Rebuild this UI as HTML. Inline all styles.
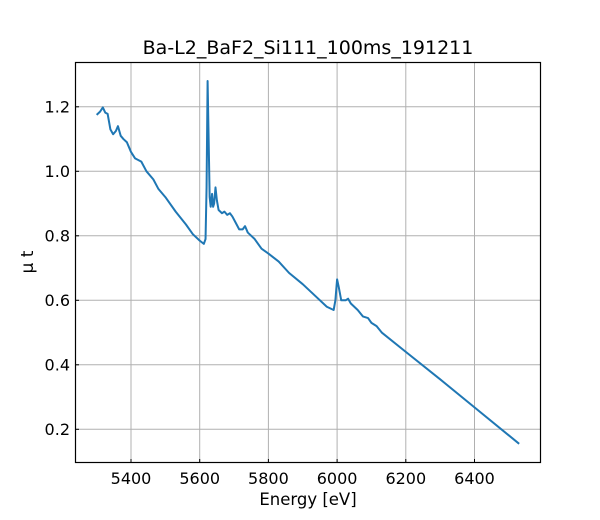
<!DOCTYPE html>
<html><head><style>
body{margin:0;background:#fff;}
svg{display:block;font-family:"DejaVu Sans","Liberation Sans",sans-serif;}
</style></head><body>
<svg width="600" height="520" viewBox="0 0 600 520" xmlns="http://www.w3.org/2000/svg">
<rect width="600" height="520" fill="#fff"/>
<g stroke="#b0b0b0" stroke-width="1">
<line x1="131" y1="62.5" x2="131" y2="462.5"/>
<line x1="199.7" y1="62.5" x2="199.7" y2="462.5"/>
<line x1="268.4" y1="62.5" x2="268.4" y2="462.5"/>
<line x1="337.1" y1="62.5" x2="337.1" y2="462.5"/>
<line x1="405.8" y1="62.5" x2="405.8" y2="462.5"/>
<line x1="474.5" y1="62.5" x2="474.5" y2="462.5"/>
<line x1="75.5" y1="429.3" x2="540.5" y2="429.3"/>
<line x1="75.5" y1="364.8" x2="540.5" y2="364.8"/>
<line x1="75.5" y1="300.3" x2="540.5" y2="300.3"/>
<line x1="75.5" y1="235.8" x2="540.5" y2="235.8"/>
<line x1="75.5" y1="171.3" x2="540.5" y2="171.3"/>
<line x1="75.5" y1="106.8" x2="540.5" y2="106.8"/>
</g>
<g transform="translate(131,429.3) scale(0.3435,-322.5) translate(-5400,-0.2)">
<polyline fill="none" stroke="#1f77b4" stroke-width="2" vector-effect="non-scaling-stroke" stroke-linejoin="round" points="
5300,1.175 5310,1.185 5318,1.198 5325,1.182 5332,1.178 5340,1.13 5348,1.115 5356,1.125 5362,1.14 5370,1.11 5378,1.10 5388,1.09 5400,1.06 5412,1.04 5430,1.03 5445,1.0 5465,0.975 5480,0.945 5500,0.92 5530,0.875 5560,0.835 5580,0.805 5600,0.785 5612,0.775 5617,0.79 5620,0.95 5623,1.28 5626,1.10 5629,0.92 5632,0.89 5636,0.93 5639,0.89 5642,0.90 5646,0.95 5650,0.91 5655,0.88 5660,0.875 5665,0.87 5672,0.875 5680,0.865 5688,0.87 5695,0.86 5705,0.84 5715,0.82 5725,0.82 5732,0.83 5740,0.81 5760,0.79 5780,0.76 5800,0.745 5830,0.72 5860,0.685 5900,0.65 5940,0.61 5970,0.58 5990,0.57 5995,0.60 6000,0.665 6005,0.64 6012,0.60 6025,0.60 6032,0.605 6040,0.59 6060,0.57 6075,0.55 6090,0.545 6100,0.53 6115,0.52 6130,0.50 6200,0.44 6300,0.355 6400,0.268 6530,0.155"/>
</g>
<rect x="75.5" y="62.5" width="465" height="400" fill="none" stroke="#000" stroke-width="1.2"/>
<g stroke="#000" stroke-width="1">
<line x1="131" y1="462.5" x2="131" y2="459"/>
<line x1="199.7" y1="462.5" x2="199.7" y2="459"/>
<line x1="268.4" y1="462.5" x2="268.4" y2="459"/>
<line x1="337.1" y1="462.5" x2="337.1" y2="459"/>
<line x1="405.8" y1="462.5" x2="405.8" y2="459"/>
<line x1="474.5" y1="462.5" x2="474.5" y2="459"/>
<line x1="75.5" y1="429.3" x2="79" y2="429.3"/>
<line x1="75.5" y1="364.8" x2="79" y2="364.8"/>
<line x1="75.5" y1="300.3" x2="79" y2="300.3"/>
<line x1="75.5" y1="235.8" x2="79" y2="235.8"/>
<line x1="75.5" y1="171.3" x2="79" y2="171.3"/>
<line x1="75.5" y1="106.8" x2="79" y2="106.8"/>
</g>
<g font-size="16" fill="#000" text-anchor="middle">
<text x="131" y="484">5400</text>
<text x="199.7" y="484">5600</text>
<text x="268.4" y="484">5800</text>
<text x="337.1" y="484">6000</text>
<text x="405.8" y="484">6200</text>
<text x="474.5" y="484">6400</text>
</g>
<g font-size="16" fill="#000" text-anchor="end">
<text x="70" y="435">0.2</text>
<text x="70" y="370.5">0.4</text>
<text x="70" y="306">0.6</text>
<text x="70" y="241.5">0.8</text>
<text x="70" y="177">1.0</text>
<text x="70" y="112.5">1.2</text>
</g>
<text x="308" y="505" font-size="16.5" text-anchor="middle">Energy [eV]</text>
<text transform="translate(33,262) rotate(-90)" font-size="17" text-anchor="middle">μ t</text>
<text x="308" y="54" font-size="19" text-anchor="middle">Ba-L2_BaF2_Si111_100ms_191211</text>
</svg>
</body></html>
